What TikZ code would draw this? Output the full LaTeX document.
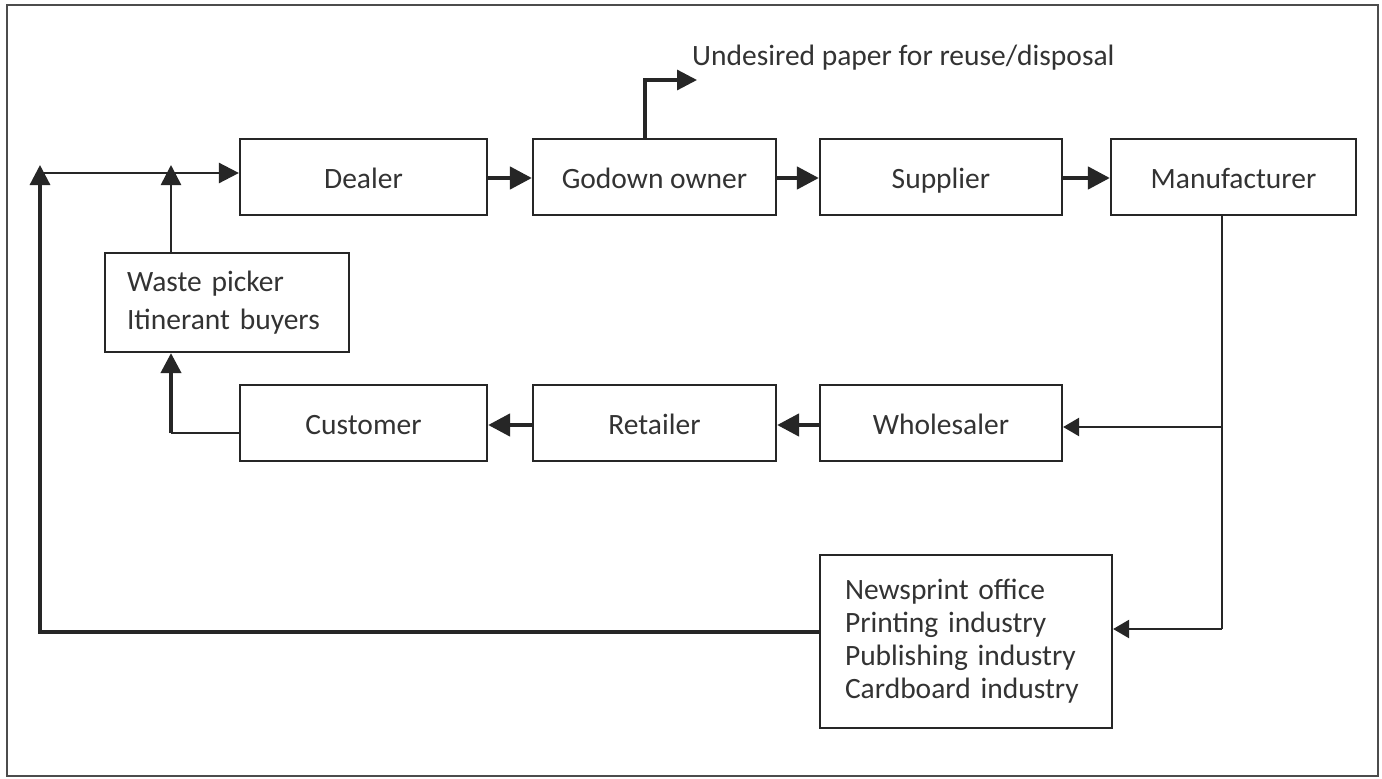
\documentclass[tikz,border=0pt]{standalone}
\usepackage{fontspec}
\setmainfont{Carlito}
\usetikzlibrary{arrows.meta}
\begin{document}
\begin{tikzpicture}[x=1pt,y=-1pt,
  box/.style={draw=black!85,line width=2.2pt,minimum height=76pt,inner sep=0pt,
    font=\fontsize{29.5}{33}\selectfont,text=black!80},
  single/.style={box,text height=22pt,text depth=0pt},
  thickarr/.style={line width=4.5pt,draw=black!85,-{Triangle[length=22pt,width=22pt]}},
  thinarr/.style={line width=2.6pt,draw=black!85,-{Triangle[length=20pt,width=20pt]}},
  openarr/.style={line width=2.4pt,draw=black!85,-{Triangle[length=16pt,width=18pt]}},
  plain/.style={line width=2.6pt,draw=black!85}]
\useasboundingbox (0,0) rectangle (1382,779);
\fill[white] (0,0) rectangle (1382,779);
\draw[line width=2pt,draw=black!70] (7,5) rectangle (1378,776);
% nodes
\node[single,minimum width=247pt] (dealer) at (363.5,177) {Dealer};
\node[single,minimum width=243pt] (godown) at (654.5,177) {Godown owner};
\node[single,minimum width=242pt] (supplier) at (941,177) {Supplier};
\node[single,minimum width=245pt] (manu) at (1233.5,177) {Manufacturer};
\node[box,minimum width=244pt,minimum height=99pt,align=left,text width=200pt,
  font=\fontsize{29.5}{38}\selectfont] (waste) at (227,302.5) {Waste picker\\Itinerant buyers};
\node[single,minimum width=247pt] (customer) at (363.5,423) {Customer};
\node[single,minimum width=243pt] (retailer) at (654.5,423) {Retailer};
\node[single,minimum width=242pt] (wholesaler) at (941,423) {Wholesaler};
\node[box,minimum width=292pt,minimum height=173pt,align=left,text width=242pt,
  font=\fontsize{29.5}{33}\selectfont] (news) at (966,641.5) {Newsprint office\\Printing industry\\Publishing industry\\Cardboard industry};
\node[anchor=west,inner sep=0pt,font=\fontsize{29.5}{33}\selectfont,text=black!80] (undesired) at (692,58) {Undesired paper for reuse/disposal};
% coordinates
\coordinate (tl) at (40,173);
\coordinate (wl) at (171,173);
\coordinate (bl) at (40,632);
\coordinate (cl) at (171,433);
\coordinate (gu) at (645,80);
\coordinate (mw) at (1222,427);
\coordinate (mn) at (1222,629);
% top row
\draw[thickarr] (dealer.east |- 0,178) -- (godown.west |- 0,178);
\draw[thickarr] (godown.east |- 0,178) -- (supplier.west |- 0,178);
\draw[thickarr] (supplier.east |- 0,178) -- (manu.west |- 0,178);
\draw[thinarr,line width=3.2pt] (godown.north -| gu) -- (gu) -- ([xshift=52pt]gu);
% bottom row
\draw[thickarr] (wholesaler.west |- 0,425) -- (retailer.east |- 0,425);
\draw[thickarr] (retailer.west |- 0,425) -- (customer.east |- 0,425);
% manufacturer branch
\draw[plain] (manu.south -| mn) -- (mn);
\draw[openarr] (mw) -- (wholesaler.east |- mw);
\draw[openarr] (mn) -- (news.east |- mn);
% feedback
\draw[line width=3.2pt,draw=black!85,-{Triangle[length=20pt,width=20pt]}] (news.west |- bl) -- (bl) -- ([yshift=8pt]tl);
\draw[thinarr] (tl) -- (dealer.west |- tl);
\draw[thinarr] (waste.north -| wl) -- ([yshift=8pt]wl);
\draw[line width=2.6pt,draw=black!85] (customer.west |- cl) -- (cl);
\draw[line width=4pt,draw=black!85,-{Triangle[length=20pt,width=20pt]}] (cl) -- (waste.south -| cl);
\end{tikzpicture}
\end{document}
